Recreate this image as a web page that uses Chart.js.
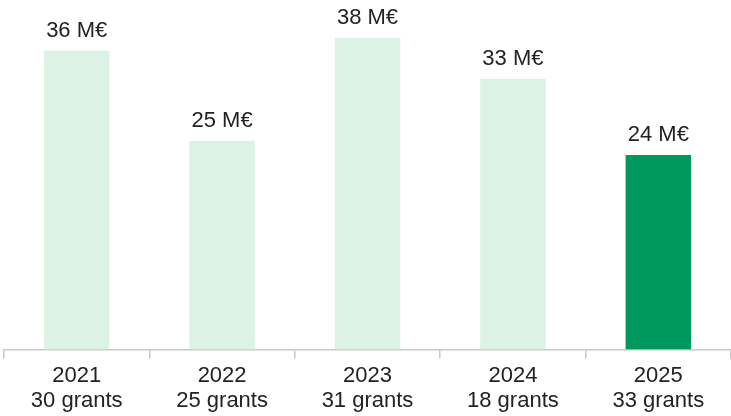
<!DOCTYPE html>
<html>
<head>
<meta charset="utf-8">
<script src="https://cdn.jsdelivr.net/npm/chart.js@4"></script>
<style>
    body { margin: 0; background: #ffffff; }
    #wrap { width: 731px; height: 416px; position: relative; }
</style>
</head>
<body>
<div id="wrap"><canvas id="grantChart"></canvas></div>
<script>
// Data
const years = ["2021", "2022", "2023", "2024", "2025"];
const grantCounts = [30, 25, 31, 18, 33];
const amounts = [36.4, 25.4, 38.0, 33.0, 23.7];   // M€
const barColors = ["#dbf2e4", "#dbf2e4", "#dbf2e4", "#dbf2e4", "#00995d"];

const xLabels = years.map((y, i) => [y, grantCounts[i] + " grants"]);

// value labels above bars
const valueLabels = {
    id: "valueLabels",
    afterDatasetsDraw(chart) {
        const ctx = chart.ctx;
        const meta = chart.getDatasetMeta(0);
        ctx.save();
        ctx.font = "22px 'Liberation Sans', Arial, sans-serif";
        ctx.fillStyle = "#222222";
        ctx.textAlign = "center";
        ctx.textBaseline = "alphabetic";
        meta.data.forEach((bar, i) => {
            ctx.fillText(Math.round(amounts[i]) + " M€", bar.x, bar.y - 14);
        });
        ctx.restore();
    }
};

const ctx = document.getElementById("grantChart").getContext("2d");

const chart = new Chart(ctx, {
    type: "bar",
    data: {
        labels: xLabels,
        datasets: [
            {
                data: amounts,
                backgroundColor: barColors,
                borderWidth: 0,
                barPercentage: 0.45,
                categoryPercentage: 1
            }
        ]
    },
    options: {
        responsive: true,
        maintainAspectRatio: false,
        animation: false,
        layout: {
            padding: { left: 4, right: 0, top: 0, bottom: -3 }
        },
        plugins: {
            legend: { display: false },
            tooltip: { enabled: false }
        },
        scales: {
            x: {
                grid: {
                    display: true,
                    drawOnChartArea: false,
                    drawTicks: true,
                    tickLength: 9,
                    color: "#c8c8c8",
                    lineWidth: 1.5
                },
                border: {
                    display: true,
                    color: "#c8c8c8",
                    width: 1.5
                },
                ticks: {
                    color: "#222222",
                    padding: 5,
                    maxRotation: 0,
                    font: {
                        family: "'Liberation Sans', Arial, sans-serif",
                        size: 22,
                        lineHeight: 1.15
                    }
                }
            },
            y: {
                display: false,
                min: 0,
                max: 42.6
            }
        }
    },
    plugins: [valueLabels]
});
</script>
</body>
</html>
